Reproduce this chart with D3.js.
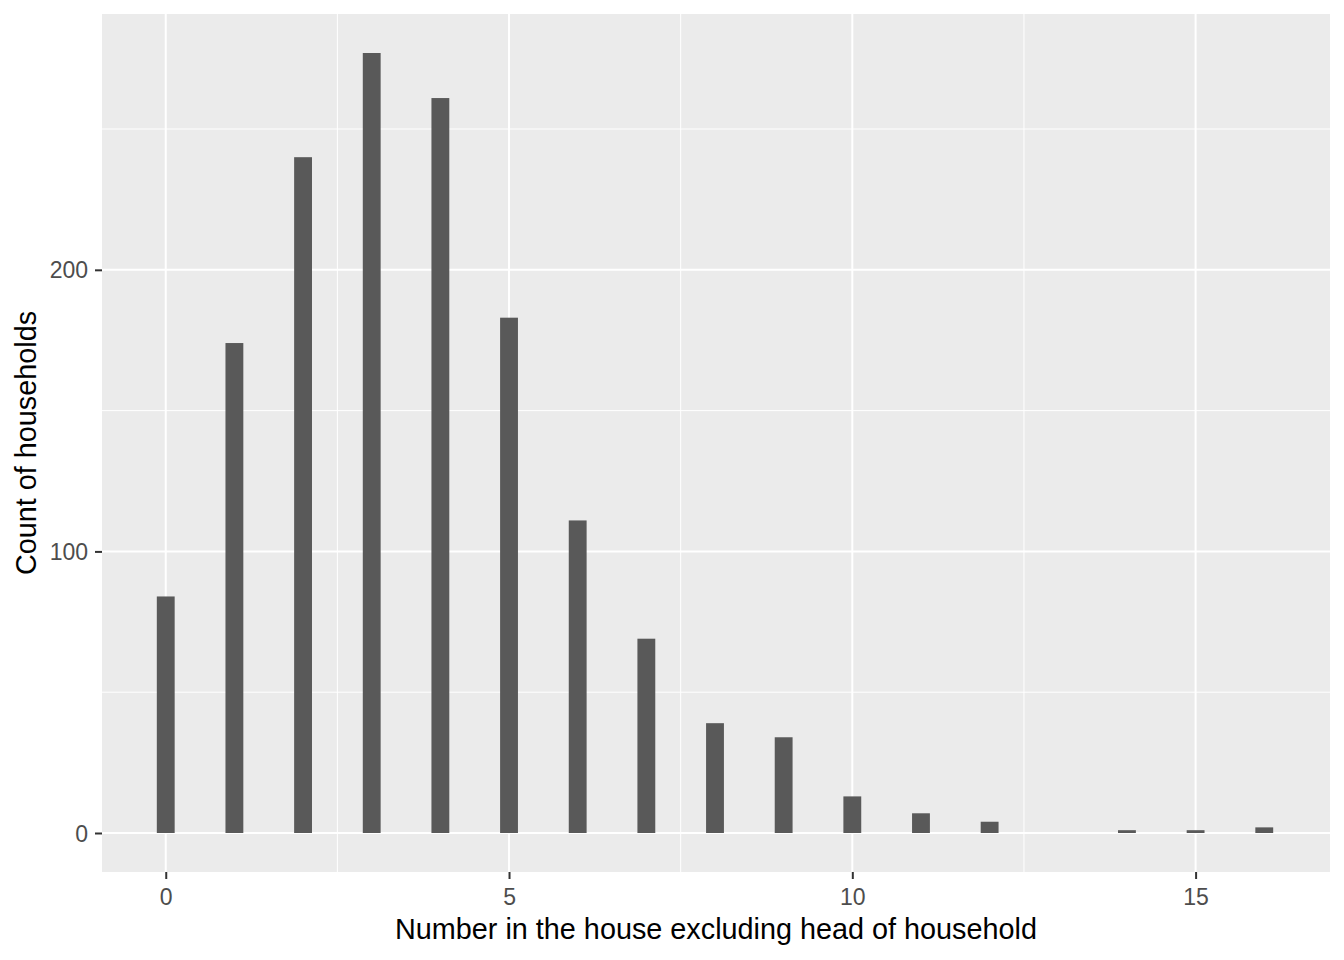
<!DOCTYPE html>
<html><head><meta charset="utf-8">
<script src="https://cdn.jsdelivr.net/npm/d3@7"></script>
<style>body{margin:0;background:#fff}svg{display:block}text{font-family:"Liberation Sans",Arial,sans-serif}</style>
</head><body>
<script>
const categories = [0,1,2,3,4,5,6,7,8,9,10,11,12,13,14,15,16];
const counts = [84,174,240,277,261,183,111,69,39,34,13,7,4,0,1,1,2];
const xTicks = [0,5,10,15];
const yTicks = [0,100,200];
const xMinor = [2.5,7.5,12.5];
const yMinor = [50,150,250];
const xTitle = "Number in the house excluding head of household";
const yTitle = "Count of households";

const W = 1344, H = 960;
const panel = {left:102, right:1330, top:14, bottom:872};
const barW = 0.26;
const xmin = -barW/2, xmax = 16 + barW/2;
const xr = xmax - xmin;
const x = d3.scaleLinear().domain([xmin - 0.05*xr, xmax + 0.05*xr]).range([panel.left - 1, panel.right - 1]);
const ymax = d3.max(counts);
const y = d3.scaleLinear().domain([-0.05*ymax, ymax*1.05]).range([panel.bottom, panel.top]);

const svg = d3.select("body").append("svg").attr("width", W).attr("height", H);
svg.append("rect").attr("x", panel.left).attr("y", panel.top)
  .attr("width", panel.right-panel.left).attr("height", panel.bottom-panel.top).attr("fill", "#EBEBEB");

const g = svg.append("g");
g.selectAll(".xminor").data(xMinor).join("line")
  .attr("x1", d=>x(d)).attr("x2", d=>x(d)).attr("y1", panel.top).attr("y2", panel.bottom)
  .attr("stroke", "#fff").attr("stroke-width", 1);
g.selectAll(".yminor").data(yMinor).join("line")
  .attr("y1", d=>y(d)).attr("y2", d=>y(d)).attr("x1", panel.left).attr("x2", panel.right)
  .attr("stroke", "#fff").attr("stroke-width", 1);
g.selectAll(".xmajor").data(xTicks).join("line")
  .attr("x1", d=>x(d)).attr("x2", d=>x(d)).attr("y1", panel.top).attr("y2", panel.bottom)
  .attr("stroke", "#fff").attr("stroke-width", 2);
g.selectAll(".ymajor").data(yTicks).join("line")
  .attr("y1", d=>y(d)).attr("y2", d=>y(d)).attr("x1", panel.left).attr("x2", panel.right)
  .attr("stroke", "#fff").attr("stroke-width", 2);

svg.append("g").selectAll("rect").data(categories).join("rect")
  .attr("x", (d)=>x(d - barW/2))
  .attr("width", (d)=>x(d + barW/2) - x(d - barW/2))
  .attr("y", (d,i)=>y(counts[i]))
  .attr("height", (d,i)=>y(0) - y(counts[i]))
  .attr("fill", "#595959");

const xAxis = d3.axisBottom(x).tickValues(xTicks).tickSize(7).tickPadding(5);
const xg = svg.append("g").attr("transform", `translate(0,${panel.bottom})`).call(xAxis);
xg.select(".domain").remove();
xg.selectAll("line").attr("stroke", "#333").attr("stroke-width", 2);
xg.selectAll("text").attr("fill", "#4D4D4D").style("font-size", "23px").attr("dy", "0.92em");

const yAxis = d3.axisLeft(y).tickValues(yTicks).tickSize(7).tickPadding(7);
const yg = svg.append("g").attr("transform", `translate(${panel.left},0)`).call(yAxis);
yg.select(".domain").remove();
yg.selectAll("line").attr("stroke", "#333").attr("stroke-width", 2);
yg.selectAll("text").attr("fill", "#4D4D4D").style("font-size", "23px").attr("dy", "0.35em");

svg.append("text").attr("x", (panel.left+panel.right)/2).attr("y", 939)
  .attr("text-anchor", "middle").attr("fill", "#000").style("font-size", "28.8px").text(xTitle);
svg.append("text").attr("transform", `translate(36,${(panel.top+panel.bottom)/2}) rotate(-90)`)
  .attr("text-anchor", "middle").attr("fill", "#000").style("font-size", "28.8px").text(yTitle);
</script>
</body></html>
